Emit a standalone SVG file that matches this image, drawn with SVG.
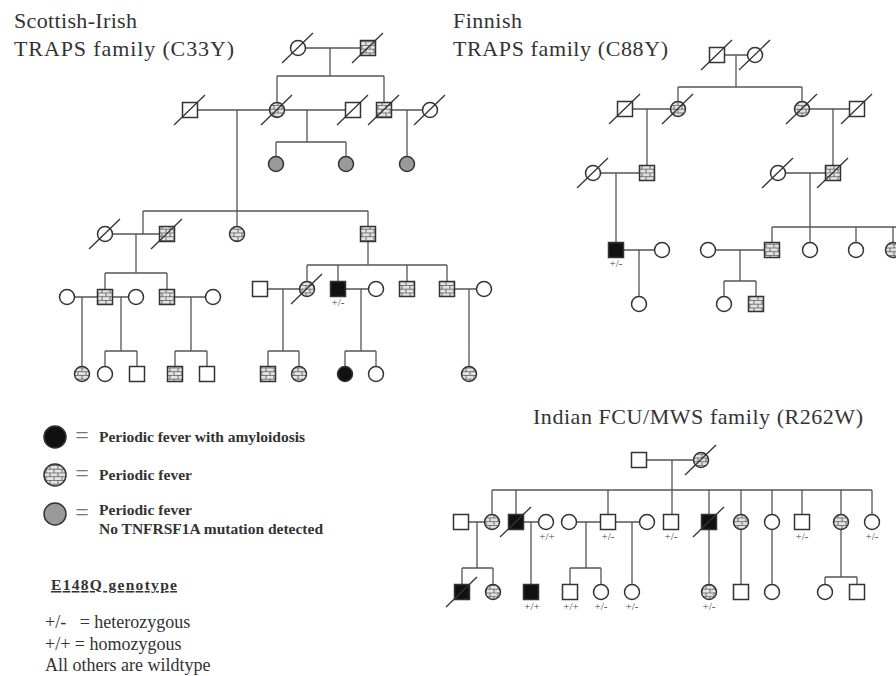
<svg xmlns="http://www.w3.org/2000/svg" width="896" height="676" viewBox="0 0 896 676">
<style>
.ln{stroke:#555;stroke-width:1.3;fill:none}
.s{stroke:#333;stroke-width:1.5;fill:#fff}
.b{fill:url(#brick)}
.k{fill:#111}
.g{fill:#9a9a9a}
.d{stroke:#333;stroke-width:1.3}
.gt{font-family:"Liberation Serif",serif;font-size:11px;fill:#444;text-anchor:middle}
.t{font-family:"Liberation Serif",serif;font-size:22px;fill:#333}
.lg{font-family:"Liberation Serif",serif;font-size:15.5px;font-weight:bold;fill:#333}
.lr{font-family:"Liberation Serif",serif;font-size:18px;fill:#333}
.eq{font-family:"Liberation Serif",serif;font-size:24px;fill:#777;text-anchor:middle}
</style>
<defs>
<pattern id="brick" patternUnits="userSpaceOnUse" width="8" height="7.5">
<rect width="8" height="7.5" fill="#e4e4e4"/>
<path d="M0 0.4H8M0 4.15H8M2 0.4V4.15M6 4.15V7.9" stroke="#555" stroke-width="0.8" fill="none"/>
</pattern>
</defs>

<g id="titles">
<text class="t" x="14" y="28" textLength="123">Scottish-Irish</text>
<text class="t" x="14" y="56" textLength="220">TRAPS family  (C33Y)</text>
<text class="t" x="453" y="28" textLength="69">Finnish</text>
<text class="t" x="453" y="56" textLength="215">TRAPS family (C88Y)</text>
<text class="t" x="533" y="424" textLength="330">Indian FCU/MWS family (R262W)</text>
</g>

<g id="connectors" class="ln">
<path d="M298 48H368M330 48V76M277 76H384M277 76V110M384 76V110M190 110H353M237 110V234M307 110V142M276 142H346M276 142V164M346 142V164M384 110H430M407 110V164M143 211H368M143 211V234M368 211V265M105 234H167M136 234V273M105 273H167M105 273V297M167 273V297M67 297H136M82 297V374M121 297V351M105 351H137M105 351V374M137 351V374M167 297H213M191 297V351M175 351H207M175 351V374M207 351V374M307 265H447M307 265V289M338 265V289M407 265V289M447 265V289M260 289H307M283 289V351M268 351H299M268 351V374M299 351V374M338 289H376M361 289V351M345 351H376M345 351V374M376 351V374M447 289H484M469 289V374"/>
<path d="M717 55H755M736 55V87M678 87H802M678 87V109M802 87V109M625 109H678M647 109V173M802 109H857M833 109V173M593 173H647M616 173V250M778 173H833M810 173V227M772 227H896M772 227V250M810 227V250M856 227V250M893 227V250M616 250H662M639 250V304M708 250H772M740 250V281M724 281H756M724 281V304M756 281V304"/>
<path d="M639 460H701M672 460V490M492 490H872M492 490V522M516 490V522M608 490V522M672 490V522M709 490V522M741 490V522M772 490V522M802 490V522M841 490V522M872 490V522M461 522H492M477 522V568M462 568H493M462 568V592M493 568V592M516 522H546M531 522V592M569 522H647M586 522V568M570 568H601M570 568V592M601 568V592M632 522V592M709 522V592M741 522V592M772 522V592M841 522V577M825 577H857M825 577V592M857 577V592"/>
</g>

<!-- Scottish-Irish -->
<g id="s1"><circle class="s" cx="298" cy="48" r="7.5"/><line class="d" x1="282" y1="63" x2="313" y2="33"/></g>
<g id="s2"><rect class="s b" x="360.5" y="40.5" width="15" height="15"/><line class="d" x1="352" y1="63" x2="383" y2="33"/></g>
<g id="s3"><rect class="s" x="182.5" y="102.5" width="15" height="15"/><line class="d" x1="174" y1="125" x2="205" y2="95"/></g>
<g id="s4"><circle class="s b" cx="277" cy="110" r="7.5"/><line class="d" x1="261" y1="125" x2="292" y2="95"/></g>
<g id="s5"><rect class="s" x="345.5" y="102.5" width="15" height="15"/><line class="d" x1="337" y1="125" x2="368" y2="95"/></g>
<g id="s6"><rect class="s b" x="376.5" y="102.5" width="15" height="15"/><line class="d" x1="368" y1="125" x2="399" y2="95"/></g>
<g id="s7"><circle class="s" cx="430" cy="110" r="7.5"/><line class="d" x1="414" y1="125" x2="445" y2="95"/></g>
<g id="s8"><circle class="s g" cx="276" cy="164" r="7.5"/></g>
<g id="s9"><circle class="s g" cx="346" cy="164" r="7.5"/></g>
<g id="s10"><circle class="s g" cx="407" cy="164" r="7.5"/></g>
<g id="s11"><circle class="s" cx="105" cy="234" r="7.5"/><line class="d" x1="89" y1="249" x2="120" y2="219"/></g>
<g id="s12"><rect class="s b" x="159.5" y="226.5" width="15" height="15"/><line class="d" x1="151" y1="249" x2="182" y2="219"/></g>
<g id="s13"><circle class="s b" cx="237" cy="234" r="7.5"/></g>
<g id="s14"><rect class="s b" x="360.5" y="226.5" width="15" height="15"/></g>
<g id="s15"><circle class="s" cx="67" cy="297" r="7.5"/></g>
<g id="s16"><rect class="s b" x="97.5" y="289.5" width="15" height="15"/></g>
<g id="s17"><circle class="s" cx="136" cy="297" r="7.5"/></g>
<g id="s18"><rect class="s b" x="159.5" y="289.5" width="15" height="15"/></g>
<g id="s19"><circle class="s" cx="213" cy="297" r="7.5"/></g>
<g id="s20"><circle class="s b" cx="82" cy="374" r="7.5"/></g>
<g id="s21"><circle class="s" cx="105" cy="374" r="7.5"/></g>
<g id="s22"><rect class="s" x="129.5" y="366.5" width="15" height="15"/></g>
<g id="s23"><rect class="s b" x="167.5" y="366.5" width="15" height="15"/></g>
<g id="s24"><rect class="s" x="199.5" y="366.5" width="15" height="15"/></g>
<g id="s25"><rect class="s" x="252.5" y="281.5" width="15" height="15"/></g>
<g id="s26"><circle class="s b" cx="307" cy="289" r="7.5"/><line class="d" x1="291" y1="304" x2="322" y2="274"/></g>
<g id="s27"><rect class="s k" x="330.5" y="281.5" width="15" height="15"/><text class="gt" x="338" y="306">+/-</text></g>
<g id="s28"><circle class="s" cx="376" cy="289" r="7.5"/></g>
<g id="s29"><rect class="s b" x="399.5" y="281.5" width="15" height="15"/></g>
<g id="s30"><rect class="s b" x="439.5" y="281.5" width="15" height="15"/></g>
<g id="s31"><circle class="s" cx="484" cy="289" r="7.5"/></g>
<g id="s32"><rect class="s b" x="260.5" y="366.5" width="15" height="15"/></g>
<g id="s33"><circle class="s b" cx="299" cy="374" r="7.5"/></g>
<g id="s34"><circle class="s k" cx="345" cy="374" r="7.5"/></g>
<g id="s35"><circle class="s" cx="376" cy="374" r="7.5"/></g>
<g id="s36"><circle class="s b" cx="469" cy="374" r="7.5"/></g>

<!-- Finnish -->
<g id="f1"><rect class="s" x="709.5" y="47.5" width="15" height="15"/><line class="d" x1="701" y1="70" x2="732" y2="40"/></g>
<g id="f2"><circle class="s" cx="755" cy="55" r="7.5"/><line class="d" x1="739" y1="70" x2="770" y2="40"/></g>
<g id="f3"><rect class="s" x="617.5" y="101.5" width="15" height="15"/><line class="d" x1="609" y1="124" x2="640" y2="94"/></g>
<g id="f4"><circle class="s b" cx="678" cy="109" r="7.5"/><line class="d" x1="662" y1="124" x2="693" y2="94"/></g>
<g id="f5"><circle class="s b" cx="802" cy="109" r="7.5"/><line class="d" x1="786" y1="124" x2="817" y2="94"/></g>
<g id="f6"><rect class="s" x="849.5" y="101.5" width="15" height="15"/><line class="d" x1="841" y1="124" x2="872" y2="94"/></g>
<g id="f7"><circle class="s" cx="593" cy="173" r="7.5"/><line class="d" x1="577" y1="188" x2="608" y2="158"/></g>
<g id="f8"><rect class="s b" x="639.5" y="165.5" width="15" height="15"/></g>
<g id="f9"><circle class="s" cx="778" cy="173" r="7.5"/><line class="d" x1="762" y1="188" x2="793" y2="158"/></g>
<g id="f10"><rect class="s b" x="825.5" y="165.5" width="15" height="15"/><line class="d" x1="817" y1="188" x2="848" y2="158"/></g>
<g id="f11"><rect class="s k" x="608.5" y="242.5" width="15" height="15"/><text class="gt" x="616" y="267">+/-</text></g>
<g id="f12"><circle class="s" cx="662" cy="250" r="7.5"/></g>
<g id="f13"><circle class="s" cx="708" cy="250" r="7.5"/></g>
<g id="f14"><rect class="s b" x="764.5" y="242.5" width="15" height="15"/></g>
<g id="f15"><circle class="s" cx="810" cy="250" r="7.5"/></g>
<g id="f16"><circle class="s" cx="856" cy="250" r="7.5"/></g>
<g id="f17"><circle class="s b" cx="893" cy="250" r="7.5"/></g>
<g id="f18"><circle class="s" cx="639" cy="304" r="7.5"/></g>
<g id="f19"><circle class="s" cx="724" cy="304" r="7.5"/></g>
<g id="f20"><rect class="s b" x="748.5" y="296.5" width="15" height="15"/></g>

<!-- Indian -->
<g id="i1"><rect class="s" x="631.5" y="452.5" width="15" height="15"/></g>
<g id="i2"><circle class="s b" cx="701" cy="460" r="7.5"/><line class="d" x1="685" y1="475" x2="716" y2="445"/></g>
<g id="i3"><rect class="s" x="453.5" y="514.5" width="15" height="15"/></g>
<g id="i4"><circle class="s b" cx="492" cy="522" r="7.5"/></g>
<g id="i5"><rect class="s k" x="508.5" y="514.5" width="15" height="15"/><line class="d" x1="500" y1="537" x2="531" y2="507"/></g>
<g id="i6"><circle class="s" cx="546" cy="522" r="7.5"/><text class="gt" x="547" y="540">+/+</text></g>
<g id="i7"><circle class="s" cx="569" cy="522" r="7.5"/></g>
<g id="i8"><rect class="s" x="600.5" y="514.5" width="15" height="15"/><text class="gt" x="608" y="540">+/-</text></g>
<g id="i9"><circle class="s" cx="647" cy="522" r="7.5"/></g>
<g id="i10"><rect class="s" x="663.5" y="514.5" width="15" height="15"/><text class="gt" x="671" y="540">+/-</text></g>
<g id="i11"><rect class="s k" x="701.5" y="514.5" width="15" height="15"/><line class="d" x1="693" y1="537" x2="724" y2="507"/></g>
<g id="i12"><circle class="s b" cx="741" cy="522" r="7.5"/></g>
<g id="i13"><circle class="s" cx="772" cy="522" r="7.5"/></g>
<g id="i14"><rect class="s" x="794.5" y="514.5" width="15" height="15"/><text class="gt" x="802" y="540">+/-</text></g>
<g id="i15"><circle class="s b" cx="841" cy="522" r="7.5"/></g>
<g id="i16"><circle class="s" cx="872" cy="522" r="7.5"/><text class="gt" x="872" y="540">+/-</text></g>
<g id="i17"><rect class="s k" x="454.5" y="584.5" width="15" height="15"/><line class="d" x1="446" y1="607" x2="477" y2="577"/></g>
<g id="i18"><circle class="s b" cx="493" cy="592" r="7.5"/></g>
<g id="i19"><rect class="s k" x="523.5" y="584.5" width="15" height="15"/><text class="gt" x="532" y="610">+/+</text></g>
<g id="i20"><rect class="s" x="562.5" y="584.5" width="15" height="15"/><text class="gt" x="571" y="610">+/+</text></g>
<g id="i21"><circle class="s" cx="601" cy="592" r="7.5"/><text class="gt" x="601" y="610">+/-</text></g>
<g id="i22"><circle class="s" cx="632" cy="592" r="7.5"/><text class="gt" x="632" y="610">+/-</text></g>
<g id="i23"><circle class="s b" cx="709" cy="592" r="7.5"/><text class="gt" x="709" y="610">+/-</text></g>
<g id="i24"><rect class="s" x="733.5" y="584.5" width="15" height="15"/></g>
<g id="i25"><circle class="s" cx="772" cy="592" r="7.5"/></g>
<g id="i26"><circle class="s" cx="825" cy="592" r="7.5"/></g>
<g id="i27"><rect class="s" x="849.5" y="584.5" width="15" height="15"/></g>

<!-- Legend -->
<g id="legend">
<circle class="s k" cx="55" cy="437" r="11"/>
<text class="eq" x="82" y="443">=</text>
<text class="lg" x="99" y="442" textLength="206">Periodic fever with amyloidosis</text>
<circle class="s b" cx="55" cy="475" r="11"/>
<text class="eq" x="82" y="481">=</text>
<text class="lg" x="99" y="480" textLength="93">Periodic fever</text>
<circle class="s g" cx="55" cy="514" r="11"/>
<text class="eq" x="82" y="520">=</text>
<text class="lg" x="99" y="515" textLength="93">Periodic fever</text>
<text class="lg" x="99" y="534" textLength="224">No TNFRSF1A mutation detected</text>
<text class="lg" x="51" y="590" textLength="126" text-decoration="underline">E148Q genotype</text>
<text class="lr" x="45" y="628" xml:space="preserve">+/-   = heterozygous</text>
<text class="lr" x="45" y="650">+/+ = homozygous</text>
<text class="lr" x="45" y="671">All others are wildtype</text>
</g>
</svg>
